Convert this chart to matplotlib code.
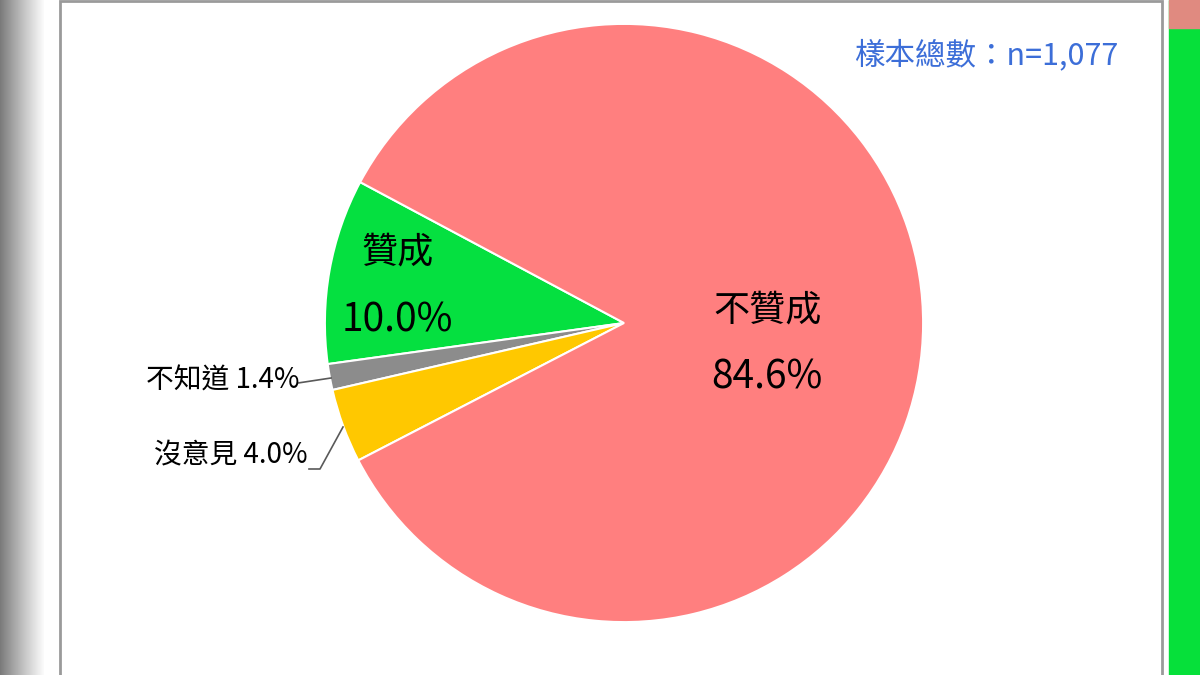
import matplotlib
matplotlib.use("Agg")
import matplotlib.pyplot as plt
import numpy as np
from matplotlib.patches import Rectangle

plt.rcParams["font.family"] = ["Noto Sans CJK TC", "DejaVu Sans"]

# data
categories = ["贊成", "不知道", "沒意見", "不贊成"]
shares = [10.0, 1.4, 4.0, 84.6]
colors = ["#05E040", "#8C8C8C", "#FFC800", "#FF7F7F"]
sample_note = "樣本總數：n=1,077"

W, H = 1200, 675
fig = plt.figure(figsize=(12, 6.75), dpi=100)
fig.patch.set_facecolor("white")

# background frame: dark gradient on the left, green strip on the right
bg = fig.add_axes([0, 0, 1, 1])
bg.set_xlim(0, W)
bg.set_ylim(H, 0)
bg.axis("off")
grad = np.linspace(0.40, 0.98, 64) ** 0.8
bg.imshow(np.repeat(grad[None, :], 2, axis=0), cmap="gray", vmin=0, vmax=1,
          extent=[0, 44, H, 0], aspect="auto", zorder=0)
bg.add_patch(Rectangle((1169, 0), 31, H, color="#06E03A", zorder=0))
bg.add_patch(Rectangle((1169, 0), 31, 28, color="#E08A80", zorder=0))
bg.add_patch(Rectangle((60, 1), 1102, H + 5, facecolor="white",
                       edgecolor="#9A9A9A", linewidth=2, zorder=1))

# pie, centre ~ (624, 323) px, radius ~ 299 px
cx, cy, r = 624, 323, 300
ax = fig.add_axes([(cx - r) / W, (H - cy - r) / H, 2 * r / W, 2 * r / H])

wedges, _ = ax.pie(shares, colors=colors, startangle=151.9, counterclock=True,
                   radius=0.997, wedgeprops=dict(edgecolor="white", linewidth=1.5))
ax.set_xlim(-1, 1)
ax.set_ylim(-1, 1)
ax.set_aspect("equal")
ax.axis("off")

# inside labels
ax.text(-0.756, 0.236, categories[0], ha="center", va="center", fontsize=26)
ax.text(-0.756, 0.01, f"{shares[0]:.1f}%", ha="center", va="center", fontsize=28)
ax.text(0.477, 0.043, categories[3], ha="center", va="center", fontsize=26)
ax.text(0.477, -0.183, f"{shares[3]:.1f}%", ha="center", va="center", fontsize=28)

# outside labels with leader lines
def px(x, y):
    return (x - cx) / r, (cy - y) / r

x0, y0 = px(298, 383)
x1, y1 = px(331, 378)
ax.plot([x0, x1], [y0, y1], color="#595959", lw=1.2, clip_on=False)
ax.text(*px(300, 381), f"{categories[1]} {shares[1]:.1f}%", ha="right", va="center",
        fontsize=20)

pts = [px(309, 469), px(320, 469), px(343, 427)]
ax.plot([p[0] for p in pts], [p[1] for p in pts], color="#595959", lw=1.2, clip_on=False)
ax.text(*px(308, 455), f"{categories[2]} {shares[2]:.1f}%", ha="right", va="center",
        fontsize=20)

fig.text(1118 / W, 1 - 55 / H, sample_note, ha="right", va="center",
         fontsize=22, color="#3C6ED8")

fig.savefig("out.png", dpi=100)
